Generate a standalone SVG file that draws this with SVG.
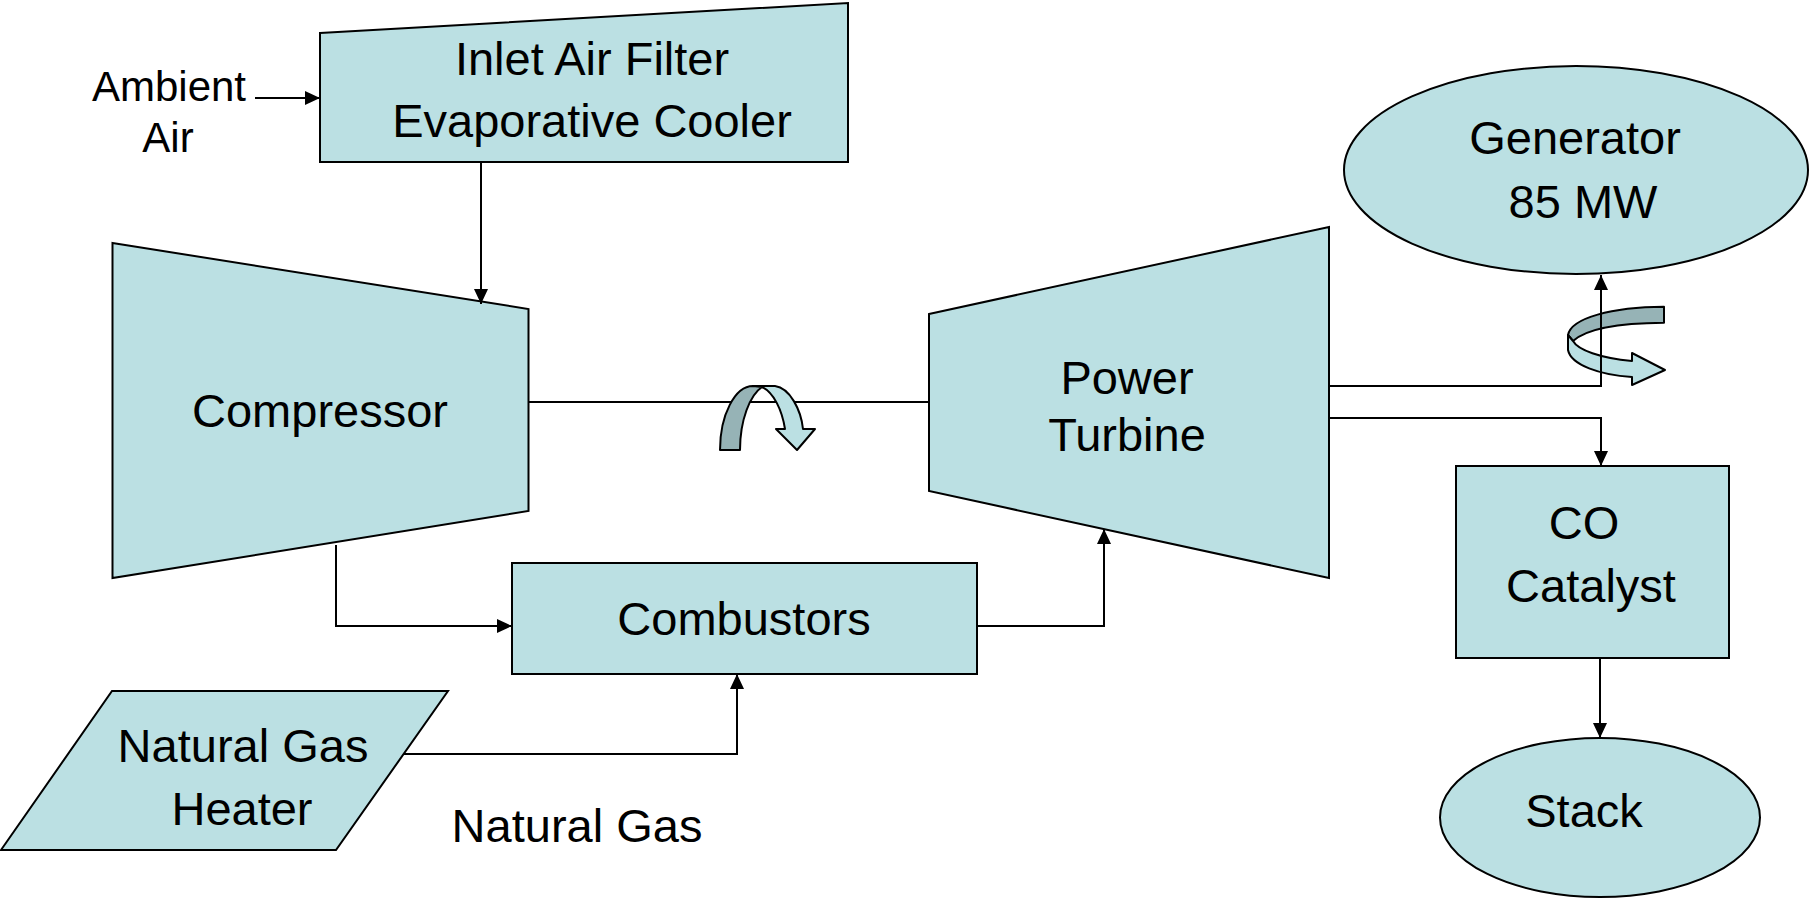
<svg xmlns="http://www.w3.org/2000/svg" width="1809" height="899" viewBox="0 0 1809 899">
<defs>
<style>
.n{fill:#BBE0E3;stroke:#000;stroke-width:2}
.d{fill:#96B3B6;stroke:#000;stroke-width:2;stroke-linejoin:round}
.l{fill:#BBE0E3;stroke:#000;stroke-width:2;stroke-linejoin:round}
.c{fill:none;stroke:#000;stroke-width:2}
text{font-family:"Liberation Sans",Arial,sans-serif;font-size:47px;fill:#000;text-anchor:middle}
.s{font-size:42px}
</style>
<marker id="ah" markerWidth="16" markerHeight="14" refX="15" refY="7" orient="auto" markerUnits="userSpaceOnUse"><path d="M0,0 L15,7 L0,14 Z" fill="#000"/></marker>
</defs>
<rect width="1809" height="899" fill="#fff"/>
<g id="inlet">
<polygon class="n" points="320,33 848,3 848,162 320,162"/>
<text x="592" y="75">Inlet Air Filter</text>
<text x="592" y="137">Evaporative Cooler</text>
</g>
<g id="ambient-label">
<text class="s" x="169" y="101">Ambient</text>
<text class="s" x="168" y="152">Air</text>
</g>
<g id="compressor">
<polygon class="n" points="112.5,243 528.5,309 528.5,511 112.5,578"/>
<text x="320" y="427">Compressor</text>
</g>
<g id="turbine">
<polygon class="n" points="929,314 1329,227 1329,578 929,491"/>
<text x="1127" y="394">Power</text>
<text x="1127" y="451">Turbine</text>
</g>
<g id="generator">
<ellipse class="n" cx="1576" cy="170" rx="232" ry="104"/>
<text x="1575" y="154">Generator</text>
<text x="1583" y="218">85 MW</text>
</g>
<g id="catalyst">
<rect class="n" x="1456" y="466" width="273" height="192"/>
<text x="1584" y="539">CO</text>
<text x="1591" y="602">Catalyst</text>
</g>
<g id="stack">
<ellipse class="n" cx="1600" cy="817.5" rx="160" ry="79.5"/>
<text x="1584" y="827">Stack</text>
</g>
<g id="combustors">
<rect class="n" x="512" y="563" width="465" height="111"/>
<text x="744" y="635">Combustors</text>
</g>
<g id="gas-heater">
<polygon class="n" points="112,691 448,691 336,850 1,850"/>
<text x="243" y="762">Natural Gas</text>
<text x="242" y="825">Heater</text>
</g>
<g id="natural-gas-label">
<text x="577" y="842">Natural Gas</text>
</g>
<g id="gen-rotation">
<path class="d" d="M1664,306.7 C1612,307 1571,318 1568,335 L1573,341 C1586,329 1620,323 1664,322.7 Z"/>
<path class="l" d="M1568,335 L1568,350 C1571,365 1600,375 1632,377 L1632,385 L1665,370 L1632,353 L1632,361 C1600,358 1578,350 1573,341 Z"/>
</g>
<g id="connectors">
<path class="c" d="M255,98 L320,98" marker-end="url(#ah)"/>
<path class="c" d="M481,162 L481,304" marker-end="url(#ah)"/>
<path class="c" d="M528.5,402 L929,402"/>
<path class="c" d="M336,545 L336,626 L512,626" marker-end="url(#ah)"/>
<path class="c" d="M977,626 L1104,626 L1104,529" marker-end="url(#ah)"/>
<path class="c" d="M404,754 L737,754 L737,674" marker-end="url(#ah)"/>
<path class="c" d="M1329,386 L1601,386 L1601,275" marker-end="url(#ah)"/>
<path class="c" d="M1329,418 L1601,418 L1601,466" marker-end="url(#ah)"/>
<path class="c" d="M1600,658 L1600,738" marker-end="url(#ah)"/>
</g>
<g id="shaft-rotation">
<path class="l" d="M753,386 L775,386 C790,388 801,410 803,429 L815,429 L797,450 L776,429 L785,429 C782,410 774,393 762,387 Z"/>
<path class="d" d="M720,450 C720,415 735,386 753,386 L762,387 C750,395 740,420 740,450 Z"/>
</g>
</svg>
